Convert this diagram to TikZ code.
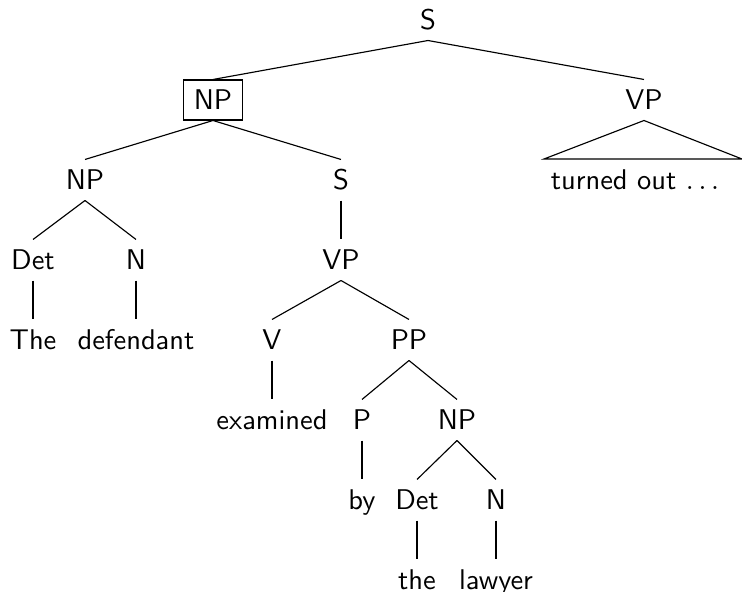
\documentclass[tikz,border=0pt]{standalone}
\usepackage{tikz}

\tikzset{
	cat/.style={font=\sffamily, text height=7pt, text depth=0pt, inner sep=3.5pt},
	boxed/.style={cat, draw, line width=0.4pt}
}

\begin{document}
\begin{tikzpicture}[x=0.351pt, y=-0.351pt]
		%%%%% START %%%%%
		\useasboundingbox (0, 0) rectangle (742, 592);
		
		\node[cat] (s) at (428, 20) {S};
		\node[boxed] (np) at (213, 100) {NP};
		\node[cat] (vp) at (644, 100) {VP};
		\node[cat] (turned) at (635, 180) {turned out $\ldots$};
		\coordinate (vpl) at (544, 159);
		\coordinate (vpr) at (742, 159);
		
		\node[cat] (npa) at (85, 180) {NP};
		\node[cat] (sb) at (341, 180) {S};
		\node[cat] (deta) at (33, 260) {Det};
		\node[cat] (na) at (136, 260) {N};
		\node[cat] (the) at (33, 340) {The};
		\node[cat] (defendant) at (136, 340) {defendant};
		
		\node[cat] (vpb) at (341, 260) {VP};
		\node[cat] (v) at (272, 340) {V};
		\node[cat] (pp) at (409, 340) {PP};
		\node[cat] (examined) at (272, 420) {examined};
		\node[cat] (p) at (362, 420) {P};
		\node[cat] (npb) at (457, 420) {NP};
		\node[cat] (by) at (362, 500) {by};
		\node[cat] (detb) at (417, 500) {Det};
		\node[cat] (nb) at (496, 500) {N};
		\node[cat] (theb) at (417, 580) {the};
		\node[cat] (lawyer) at (496, 580) {lawyer};
		
		\draw (s.south) -- (np.north);
		\draw (s.south) -- (vp.north);
		\draw (vp.south) -- (vpl) -- (vpr) -- cycle;
		
		\draw (np.south) -- (npa.north);
		\draw (np.south) -- (sb.north);
		\draw (npa.south) -- (deta.north);
		\draw (npa.south) -- (na.north);
		\draw (deta.south) -- (the.north);
		\draw (na.south) -- (defendant.north);
		
		\draw (sb.south) -- (vpb.north);
		\draw (vpb.south) -- (v.north);
		\draw (vpb.south) -- (pp.north);
		\draw (v.south) -- (examined.north);
		\draw (pp.south) -- (p.north);
		\draw (pp.south) -- (npb.north);
		\draw (p.south) -- (by.north);
		\draw (npb.south) -- (detb.north);
		\draw (npb.south) -- (nb.north);
		\draw (detb.south) -- (theb.north);
		\draw (nb.south) -- (lawyer.north);
		%%%%% END %%%%%
\end{tikzpicture}
\end{document}
